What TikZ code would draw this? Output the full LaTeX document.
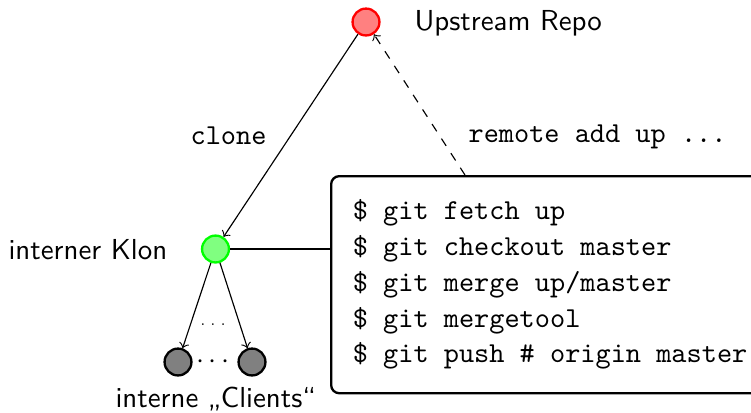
\documentclass[tikz,border=0pt]{standalone}
\usepackage{fontspec}
\begin{document}
\begin{tikzpicture}[x=0.346pt,y=-0.346pt,
  repo/.style={circle,inner sep=0pt,minimum size=9.3pt,thick},
  lbl/.style={inner sep=0pt,font=\sffamily},
  cmd/.style={inner sep=0pt,font=\ttfamily},
  conn/.style={->},
]
\useasboundingbox (0,0) rectangle (751,412);
\node[repo,draw=red,fill=red!50] (up) at (366,22) {};
\node[repo,draw=green,fill=green!50] (kl) at (215.5,249) {};
\node[repo,draw=black,fill=gray] (c1) at (178,362) {};
\node[repo,draw=black,fill=gray] (c2) at (252,362) {};
\node (dots) at (213,362) {$\cdots$};
\node[inner sep=0pt,font=\tiny,anchor=base] (sdots) at (213,325) {$\ldots$};

\node[lbl,anchor=base west] (lup) at (414,30) {Upstream Repo};
\node[lbl,anchor=base west] (lkl) at (8,259) {interner Klon};
\node[lbl,anchor=base west] (lcl) at (115,407) {interne „Clients“};
\node[cmd,anchor=base west] (lclone) at (190,144) {clone};
\node[cmd,anchor=base west] (lremote) at (468,142) {remote add up ...};

\node[draw,thick,rounded corners=2.8pt,anchor=north west,inner xsep=7.5pt,inner ysep=0pt,
  minimum height=75.1pt,align=left,font={\ttfamily\fontsize{10}{12.37}\selectfont}]
  (box) at (330,175) {\$ git fetch up\\\$ git checkout master\\\$ git merge up/master\\\$ git mergetool\\\$ git push \# origin master};

\coordinate (rs) at (465,175);
\draw[conn] (up) -- (kl);
\draw[conn] (kl) -- (c1);
\draw[conn] (kl) -- (c2);
\draw (kl) -- (kl -| box.west);
\draw[conn,dashed] (rs) -- (up);
\end{tikzpicture}
\end{document}
